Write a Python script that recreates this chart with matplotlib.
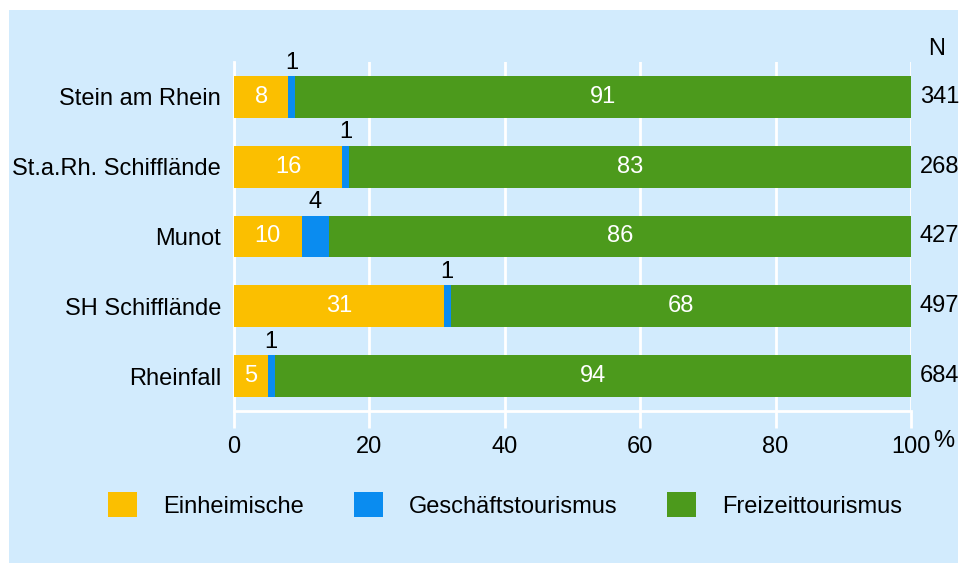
import matplotlib.pyplot as plt
from matplotlib.patches import Rectangle
import numpy as np

plt.rcParams['font.family'] = ['Liberation Sans', 'DejaVu Sans']

orte = ['Stein am Rhein', 'St.a.Rh. Schiffl\u00e4nde', 'Munot', 'SH Schiffl\u00e4nde', 'Rheinfall']
einheimische = [8, 16, 10, 31, 5]
geschaeft = [1, 1, 4, 1, 1]
freizeit = [91, 83, 86, 68, 94]
n_werte = [341, 268, 427, 497, 684]
serien = ['Einheimische', 'Gesch\u00e4ftstourismus', 'Freizeittourismus']
farben = ['#FBBF00', '#0A8CF0', '#4C9A1C']
bg = '#D2EBFD'

fig = plt.figure(figsize=(9.66, 5.63), dpi=100, facecolor='white')
fig.patches.append(Rectangle((9/966, 0), 949/966, 553/563, transform=fig.transFigure,
                             facecolor=bg, edgecolor='none', zorder=-10))

ax = fig.add_axes([234/966, 152/563, 677/966, 349/563])
ax.set_facecolor(bg)
ax.patch.set_alpha(0)

y = np.arange(len(orte))
ein = np.array(einheimische)
ges = np.array(geschaeft)
fre = np.array(freizeit)

b1 = ax.barh(y, ein, height=0.6, color=farben[0], zorder=3, label=serien[0])
b2 = ax.barh(y, ges, left=ein, height=0.6, color=farben[1], zorder=3, label=serien[1])
b3 = ax.barh(y, fre, left=ein + ges, height=0.6, color=farben[2], zorder=3, label=serien[2])

fs = 17
for i in range(len(orte)):
    ax.text(ein[i] / 2, y[i], str(ein[i]), color='white', ha='center', va='center', fontsize=fs, zorder=4)
    ax.text(ein[i] + ges[i] / 2, y[i] - 0.49, str(ges[i]), color='black', ha='center', va='center', fontsize=fs, zorder=4)
    ax.text(ein[i] + ges[i] + fre[i] / 2, y[i], str(fre[i]), color='white', ha='center', va='center', fontsize=fs, zorder=4)
    ax.text(101.3, y[i], str(n_werte[i]), color='black', ha='left', va='center', fontsize=fs, clip_on=False)
ax.text(103.8, -0.68, 'N', ha='center', va='center', fontsize=fs)
ax.text(103.3, 4.93, '%', ha='left', va='center', fontsize=fs, clip_on=False)

ax.set_xlim(0, 100)
ax.set_ylim(4.5, -0.5)
ax.set_yticks(y)
ax.set_yticklabels(orte, fontsize=fs)
ax.set_xticks([0, 20, 40, 60, 80, 100])
ax.set_xticklabels(['0', '20', '40', '60', '80', '100'], fontsize=fs)
ax.tick_params(axis='y', length=0, pad=9.4)
ax.tick_params(axis='x', length=12, width=2, color='white', pad=6)
ax.grid(axis='x', color='white', linewidth=2, zorder=1)
ax.set_axisbelow(True)
for s in ['top', 'right']:
    ax.spines[s].set_visible(False)
for s in ['left', 'bottom']:
    ax.spines[s].set_color('white')
    ax.spines[s].set_linewidth(2)

fig.legend(handles=[b1, b2, b3], labels=serien, loc='center', bbox_to_anchor=(0.523, 0.103),
           ncol=3, frameon=False, fontsize=fs, handlelength=1.23, handleheight=1.23,
           handletextpad=1.1, columnspacing=2.1)

fig.savefig('out.png', dpi=100, facecolor='white')
